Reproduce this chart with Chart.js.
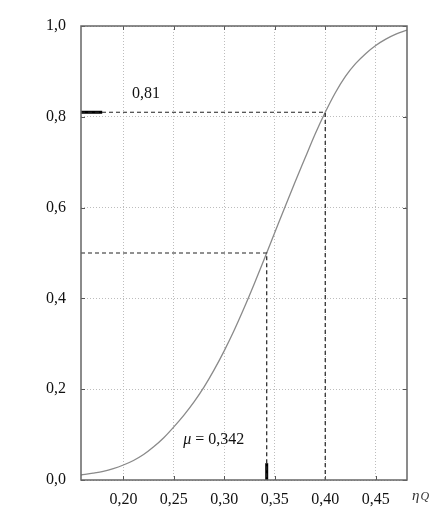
<!DOCTYPE html>
<html>
<head>
<meta charset="utf-8">
<script src="https://cdn.jsdelivr.net/npm/chart.js@4.4.1/dist/chart.umd.min.js"></script>
<style>
  html, body { margin: 0; padding: 0; background: #fff; }
  #wrap { width: 448px; height: 513px; }
</style>
</head>
<body>
<div id="wrap"><canvas id="cdfChart" width="448" height="513"></canvas></div>
<script>
// Values (cumulative probability vs eta_Q)
const etaValues  = [0.158, 0.17, 0.18, 0.19, 0.20, 0.21, 0.22, 0.23, 0.24, 0.25, 0.26, 0.27, 0.28, 0.29, 0.30, 0.31, 0.32,
                    0.33, 0.34, 0.35, 0.36, 0.37, 0.38, 0.39, 0.40, 0.41, 0.42, 0.43, 0.44, 0.45, 0.46, 0.47, 0.481];
const probValues = [0.011, 0.015, 0.019, 0.025, 0.033, 0.043, 0.056, 0.073, 0.093, 0.117, 0.143, 0.172, 0.205, 0.243, 0.285, 0.331, 0.381,
                    0.434, 0.489, 0.545, 0.601, 0.656, 0.709, 0.762, 0.810, 0.853, 0.889, 0.917, 0.939, 0.957, 0.971, 0.982, 0.991];

const xTicks = [0.20, 0.25, 0.30, 0.35, 0.40, 0.45];
const yTicks = [0.0, 0.2, 0.4, 0.6, 0.8, 1.0];
const xMin = 0.158;
const xMax = 0.481;

// guide lines
const mu = 0.342;
const etaAt81 = 0.40;
const p81 = 0.81;
const guide81X = [xMin, etaAt81, etaAt81];
const guide81Y = [p81, p81, 0];
const guideMuX = [xMin, mu, mu];
const guideMuY = [0.5, 0.5, 0];
const markLeftX = [xMin, 0.179];
const markLeftY = [p81, p81];
const markMuX = [mu, mu];
const markMuY = [0, 0.037];

function zip(xs, ys) {
    return xs.map((x, i) => ({ x: x, y: ys[i] }));
}

const serif = '"Liberation Serif", "DejaVu Serif", serif';

// frame, inner tick marks and text labels
const framePlugin = {
    id: 'frame',
    afterDraw(chart) {
        const ctx = chart.ctx;
        const a = chart.chartArea;
        const xs = chart.scales.x;
        const ys = chart.scales.y;
        ctx.save();

        // inner ticks
        ctx.strokeStyle = '#555';
        ctx.lineWidth = 1;
        ctx.beginPath();
        xTicks.forEach(v => {
            const px = Math.round(xs.getPixelForValue(v)) + 0.5;
            ctx.moveTo(px, a.bottom); ctx.lineTo(px, a.bottom - 4);
            ctx.moveTo(px, a.top); ctx.lineTo(px, a.top + 4);
        });
        yTicks.forEach(v => {
            const py = Math.round(ys.getPixelForValue(v)) + 0.5;
            ctx.moveTo(a.left, py); ctx.lineTo(a.left + 4, py);
            ctx.moveTo(a.right, py); ctx.lineTo(a.right - 4, py);
        });
        ctx.stroke();

        // frame
        ctx.strokeStyle = '#666';
        ctx.lineWidth = 1.5;
        ctx.strokeRect(a.left, a.top, a.right - a.left, a.bottom - a.top);

        // annotations
        ctx.fillStyle = '#111';
        ctx.textBaseline = 'middle';
        ctx.font = '16px ' + serif;
        ctx.textAlign = 'center';
        ctx.fillText('0,81', xs.getPixelForValue(0.2225), ys.getPixelForValue(0.85));

        ctx.textAlign = 'left';
        let tx = xs.getPixelForValue(0.2592);
        const ty = ys.getPixelForValue(0.088);
        ctx.font = 'italic 16px ' + serif;
        ctx.fillText('\u03bc', tx, ty);
        tx += ctx.measureText('\u03bc').width;
        ctx.font = '16px ' + serif;
        ctx.fillText(' = 0,342', tx, ty);

        // axis name
        ctx.fillStyle = '#333';
        ctx.font = 'italic 15px ' + serif;
        ctx.fillText('\u03b7', a.right + 5, a.bottom + 16);
        const w = ctx.measureText('\u03b7').width;
        ctx.font = 'italic 12px ' + serif;
        ctx.fillText('Q', a.right + 5 + w + 1, a.bottom + 17);

        ctx.restore();
    }
};

new Chart(document.getElementById('cdfChart'), {
    type: 'line',
    data: {
        datasets: [
            {
                label: 'guide 0,81',
                data: zip(guide81X, guide81Y),
                borderColor: '#222',
                borderWidth: 1.2,
                borderDash: [4, 3],
                pointRadius: 0,
                tension: 0
            },
            {
                label: 'guide mu',
                data: zip(guideMuX, guideMuY),
                borderColor: '#222',
                borderWidth: 1.2,
                borderDash: [4, 3],
                pointRadius: 0,
                tension: 0
            },
            {
                label: 'mark 0,81',
                data: zip(markLeftX, markLeftY),
                borderColor: '#000',
                borderWidth: 3,
                pointRadius: 0
            },
            {
                label: 'mark mu',
                data: zip(markMuX, markMuY),
                borderColor: '#000',
                borderWidth: 3,
                pointRadius: 0
            },
            {
                label: 'F(eta)',
                data: zip(etaValues, probValues),
                borderColor: '#8a8a8a',
                borderWidth: 1.3,
                pointRadius: 0,
                cubicInterpolationMode: 'monotone'
            }
        ]
    },
    options: {
        responsive: false,
        animation: false,
        layout: { padding: { top: 26, right: 41, left: 0, bottom: 0 } },
        plugins: {
            legend: { display: false },
            tooltip: { enabled: false }
        },
        scales: {
            x: {
                type: 'linear',
                min: xMin,
                max: xMax,
                afterBuildTicks: scale => { scale.ticks = xTicks.map(v => ({ value: v })); },
                afterFit: scale => { scale.height = 33; },
                grid: { color: '#bdbdbd', lineWidth: 1, drawTicks: false },
                border: { display: false, dash: [1, 2] },
                ticks: {
                    padding: 10,
                    color: '#111',
                    font: { family: serif, size: 16 },
                    callback: v => v.toFixed(2).replace('.', ',')
                }
            },
            y: {
                type: 'linear',
                min: 0,
                max: 1,
                afterBuildTicks: scale => { scale.ticks = yTicks.map(v => ({ value: v })); },
                afterFit: scale => { scale.width = 81; },
                grid: { color: '#bdbdbd', lineWidth: 1, drawTicks: false },
                border: { display: false, dash: [1, 2] },
                ticks: {
                    padding: 15,
                    color: '#111',
                    font: { family: serif, size: 16 },
                    callback: v => v.toFixed(1).replace('.', ',')
                }
            }
        }
    },
    plugins: [framePlugin]
});
</script>
</body>
</html>
